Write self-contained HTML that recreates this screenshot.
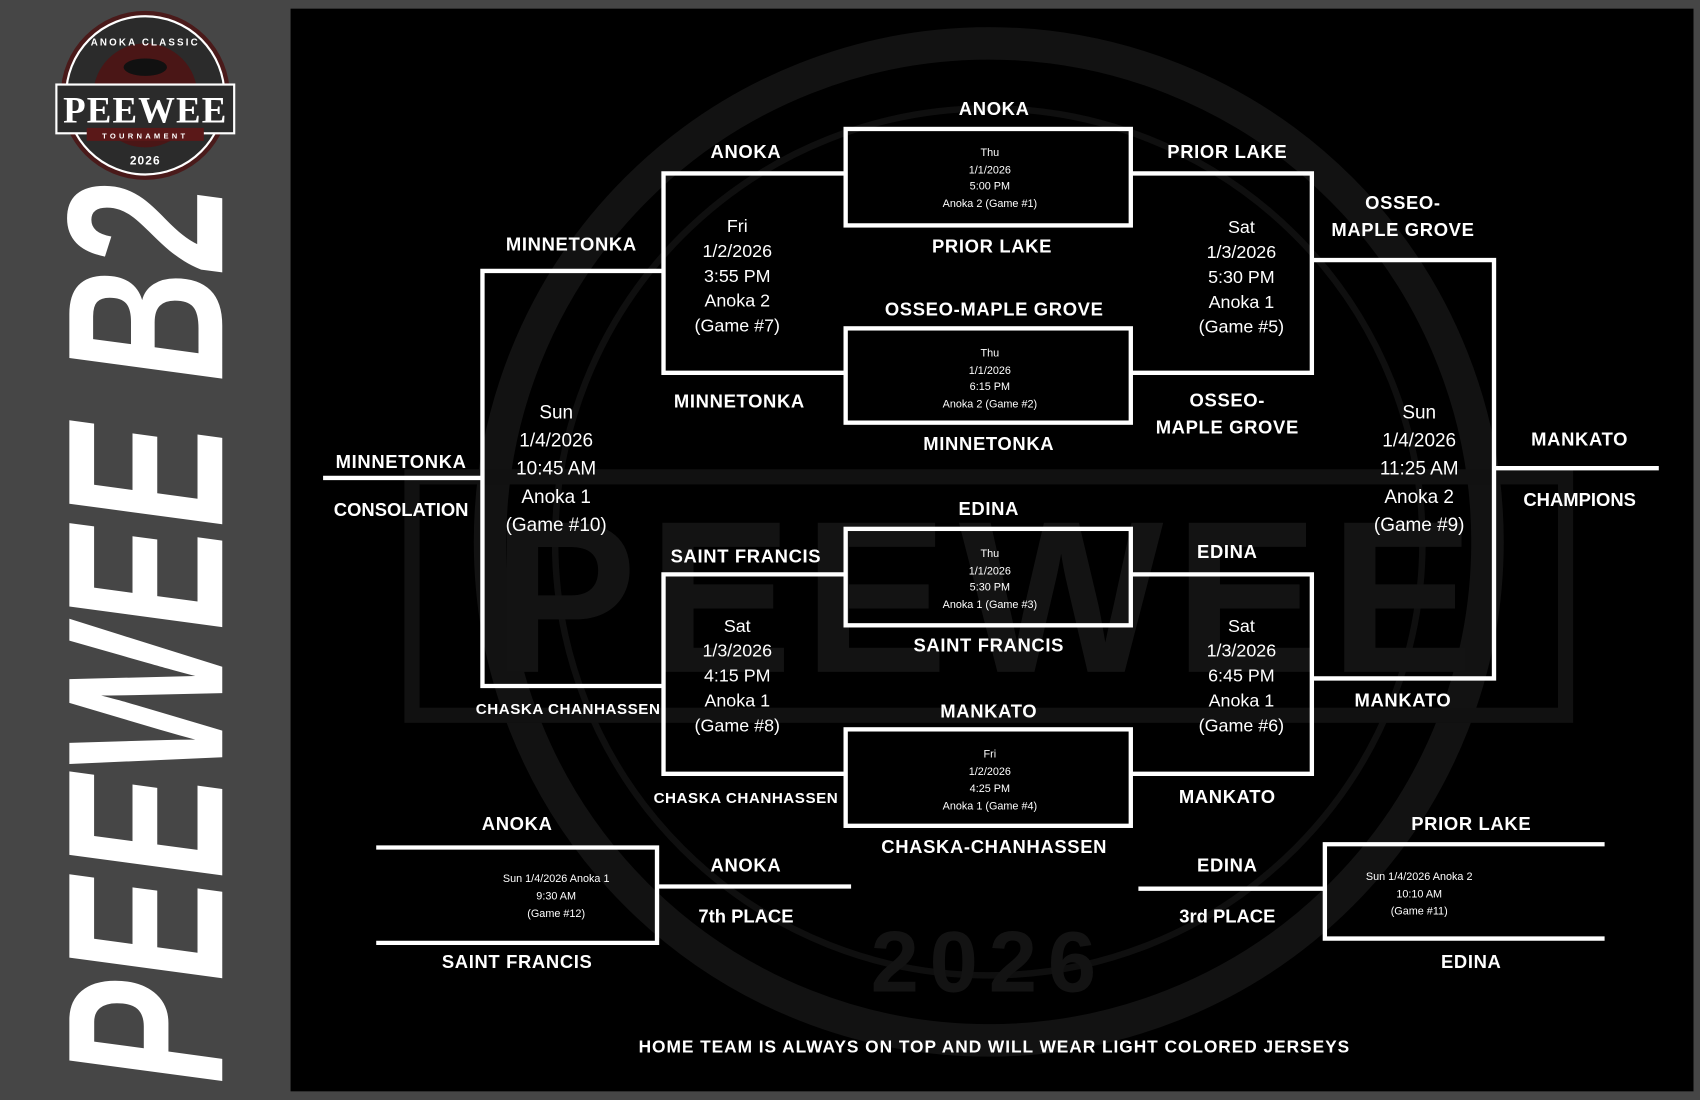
<!DOCTYPE html>
<html><head><meta charset="utf-8"><style>
html,body{margin:0;padding:0;background:#464646;}
svg{display:block}
text{font-family:"Liberation Sans Narrow","Liberation Sans",sans-serif;fill:#fff;text-anchor:middle}
.t{font-weight:bold;font-size:17px;letter-spacing:0.6px}
.g{font-size:16.5px}
.G{font-size:17.5px}
.s{font-size:10px}
</style></head><body>
<svg width="1700" height="1100" viewBox="0 0 1568 1015" preserveAspectRatio="none" xmlns="http://www.w3.org/2000/svg">
<rect x="0" y="0" width="1568" height="1015" fill="#464646"/>
<rect x="268" y="8" width="1294" height="999" fill="#000"/>
<g opacity="0.9">
<circle cx="912" cy="500" r="460" fill="none" stroke="#141414" stroke-width="30"/>
<circle cx="912" cy="500" r="400" fill="none" stroke="#111" stroke-width="6"/>
<rect x="380" y="440" width="1064" height="220" fill="none" stroke="#131313" stroke-width="14"/>
<text x="912" y="620" style="font-size:200px;font-weight:bold;fill:#161616;letter-spacing:10px">PEEWEE</text>
<text x="912" y="915" style="font-size:80px;font-weight:bold;fill:#161616;letter-spacing:10px">2026</text>
</g>
<g>
<circle cx="134" cy="88" r="78" fill="#4a1a1a"/>
<circle cx="134" cy="88" r="73" fill="#2b2b2b" stroke="#fff" stroke-width="2"/>
<circle cx="134" cy="88" r="48" fill="#4a1616"/>
<rect x="52" y="78" width="164" height="45" fill="#2b2b2b" stroke="#fff" stroke-width="2"/>
<rect x="80" y="118" width="108" height="12" fill="#5a1818"/>
<text x="134" y="113" style="font-family:'Liberation Serif',serif;font-weight:bold;font-size:34px;letter-spacing:1px">PEEWEE</text>
<text x="134" y="128" style="font-size:7px;letter-spacing:3px;font-weight:bold">TOURNAMENT</text>
<text x="134" y="152" style="font-size:11px;font-weight:bold;letter-spacing:1px">2026</text>
<text x="134" y="42" style="font-size:9px;font-weight:bold;letter-spacing:2px">ANOKA CLASSIC</text>
<ellipse cx="134" cy="62" rx="20" ry="8" fill="#111"/>
</g>
<text transform="translate(205,585) rotate(-90)" style="font-family:'Liberation Sans',sans-serif;font-weight:bold;font-style:italic;font-size:205px" textLength="830" lengthAdjust="spacingAndGlyphs">PEEWEE B2</text>
<g fill="none" stroke="#fff" stroke-width="4">
<rect x="780" y="119" width="263" height="89"/>
<rect x="780" y="303" width="263" height="87"/>
<rect x="780" y="488" width="263" height="89"/>
<rect x="780" y="673" width="263" height="89"/>
<polyline points="780,160 612,160 612,344 780,344"/>
<polyline points="1043,160 1210,160 1210,344 1043,344"/>
<polyline points="780,530 612,530 612,714 780,714"/>
<polyline points="1043,530 1210,530 1210,714 1043,714"/>
<polyline points="612,250 445,250 445,633 612,633"/>
<line x1="298" y1="441" x2="445" y2="441"/>
<polyline points="1210,240 1378,240 1378,626 1210,626"/>
<line x1="1378" y1="432" x2="1530" y2="432"/>
<polyline points="347,782 606,782 606,870 347,870"/>
<line x1="606" y1="818" x2="785" y2="818"/>
<polyline points="1480,779 1222,779 1222,866 1480,866"/>
<line x1="1050" y1="820" x2="1222" y2="820"/>
</g>
<g class="t">
<text x="917" y="106">ANOKA</text>
<text x="915" y="233">PRIOR LAKE</text>
<text x="688" y="146">ANOKA</text>
<text x="1132" y="146">PRIOR LAKE</text>
<text x="527" y="231">MINNETONKA</text>
<text x="917" y="291">OSSEO-MAPLE GROVE</text>
<text x="682" y="376">MINNETONKA</text>
<text x="912" y="415">MINNETONKA</text>
<text x="1294" y="193">OSSEO-</text>
<text x="1294" y="218">MAPLE GROVE</text>
<text x="1132" y="375">OSSEO-</text>
<text x="1132" y="400">MAPLE GROVE</text>
<text x="370" y="432">MINNETONKA</text>
<text x="370" y="476" style="letter-spacing:0">CONSOLATION</text>
<text x="1457" y="411">MANKATO</text>
<text x="1457" y="467" style="letter-spacing:0">CHAMPIONS</text>
<text x="912" y="475">EDINA</text>
<text x="688" y="519">SAINT FRANCIS</text>
<text x="1132" y="515">EDINA</text>
<text x="912" y="601">SAINT FRANCIS</text>
<text x="912" y="662">MANKATO</text>
<text x="1294" y="652">MANKATO</text>
<text x="524" y="659" style="font-size:14px;letter-spacing:0.5px">CHASKA CHANHASSEN</text>
<text x="688" y="741" style="font-size:14px;letter-spacing:0.5px">CHASKA CHANHASSEN</text>
<text x="1132" y="741">MANKATO</text>
<text x="917" y="787">CHASKA-CHANHASSEN</text>
<text x="477" y="766">ANOKA</text>
<text x="477" y="893">SAINT FRANCIS</text>
<text x="688" y="804">ANOKA</text>
<text x="688" y="851" style="letter-spacing:0">7th PLACE</text>
<text x="1132" y="804">EDINA</text>
<text x="1132" y="851" style="letter-spacing:0">3rd PLACE</text>
<text x="1357" y="766">PRIOR LAKE</text>
<text x="1357" y="893">EDINA</text>
<text x="917" y="971" style="font-size:16px" textLength="656" lengthAdjust="spacing">HOME TEAM IS ALWAYS ON TOP AND WILL WEAR LIGHT COLORED JERSEYS</text>
</g>
<g class="g">
<text x="680" y="214">Fri</text><text x="680" y="237">1/2/2026</text><text x="680" y="260">3:55 PM</text><text x="680" y="283">Anoka 2</text><text x="680" y="306">(Game #7)</text>
<text x="1145" y="215">Sat</text><text x="1145" y="238">1/3/2026</text><text x="1145" y="261">5:30 PM</text><text x="1145" y="284">Anoka 1</text><text x="1145" y="307">(Game #5)</text>
<text x="680" y="583">Sat</text><text x="680" y="606">1/3/2026</text><text x="680" y="629">4:15 PM</text><text x="680" y="652">Anoka 1</text><text x="680" y="675">(Game #8)</text>
<text x="1145" y="583">Sat</text><text x="1145" y="606">1/3/2026</text><text x="1145" y="629">6:45 PM</text><text x="1145" y="652">Anoka 1</text><text x="1145" y="675">(Game #6)</text>
</g>
<g class="G">
<text x="513" y="386">Sun</text><text x="513" y="412">1/4/2026</text><text x="513" y="438">10:45 AM</text><text x="513" y="464">Anoka 1</text><text x="513" y="490">(Game #10)</text>
<text x="1309" y="386">Sun</text><text x="1309" y="412">1/4/2026</text><text x="1309" y="438">11:25 AM</text><text x="1309" y="464">Anoka 2</text><text x="1309" y="490">(Game #9)</text>
</g>
<g class="s">
<text x="913" y="144">Thu</text><text x="913" y="160">1/1/2026</text><text x="913" y="175">5:00 PM</text><text x="913" y="191">Anoka 2 (Game #1)</text>
<text x="913" y="329">Thu</text><text x="913" y="345">1/1/2026</text><text x="913" y="360">6:15 PM</text><text x="913" y="376">Anoka 2 (Game #2)</text>
<text x="913" y="514">Thu</text><text x="913" y="530">1/1/2026</text><text x="913" y="545">5:30 PM</text><text x="913" y="561">Anoka 1 (Game #3)</text>
<text x="913" y="699">Fri</text><text x="913" y="715">1/2/2026</text><text x="913" y="731">4:25 PM</text><text x="913" y="747">Anoka 1 (Game #4)</text>
<text x="513" y="814">Sun 1/4/2026 Anoka 1</text><text x="513" y="830">9:30 AM</text><text x="513" y="846">(Game #12)</text>
<text x="1309" y="812">Sun 1/4/2026 Anoka 2</text><text x="1309" y="828">10:10 AM</text><text x="1309" y="844">(Game #11)</text>
</g>
</svg>
</body></html>
